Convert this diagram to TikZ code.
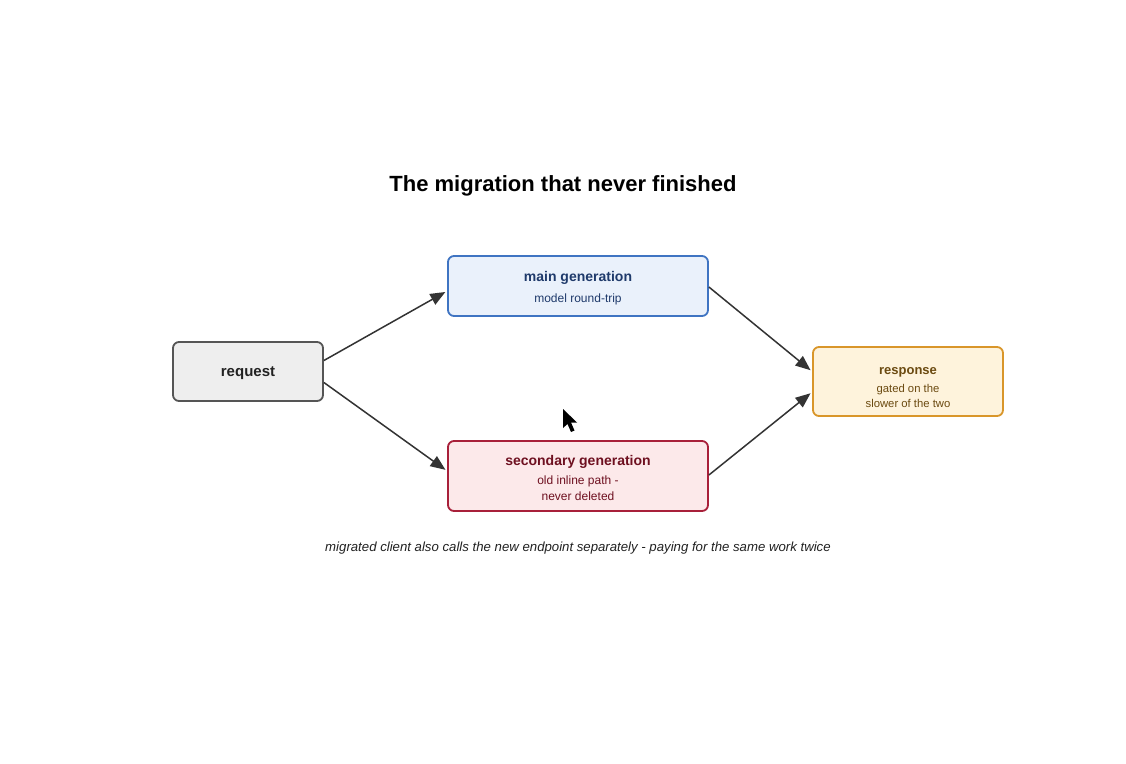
\documentclass[tikz,border=0pt]{standalone}
\usepackage{fontspec}
\setmainfont{Liberation Sans}
\usetikzlibrary{arrows.meta,calc}
\definecolor{reqfill}{HTML}{EEEEEE}
\definecolor{reqdraw}{HTML}{555555}
\definecolor{reqtext}{HTML}{222222}
\definecolor{mainfill}{HTML}{EAF1FB}
\definecolor{maindraw}{HTML}{3F74C2}
\definecolor{maintext}{HTML}{1F3A6B}
\definecolor{secfill}{HTML}{FCE9EA}
\definecolor{secdraw}{HTML}{A8203A}
\definecolor{sectext}{HTML}{6E1020}
\definecolor{resfill}{HTML}{FEF3DC}
\definecolor{resdraw}{HTML}{D9962A}
\definecolor{restext}{HTML}{6B4A10}
\definecolor{arrowc}{HTML}{333333}
\tikzset{
  box/.style={draw, line width=1.8pt, rounded corners=6pt, inner sep=0pt},
  head/.style={font=\bfseries\fontsize{14}{16}\selectfont, inner sep=0pt},
  sub/.style={font=\fontsize{12}{14}\selectfont, inner sep=0pt},
  conn/.style={draw=arrowc, line width=1.5pt, -{Triangle[length=15pt,width=12pt]}, shorten >=2pt},
}
\begin{document}
\begin{tikzpicture}[x=1pt,y=-1pt]
\useasboundingbox[fill=white] (0,0) rectangle (1126,763);
\node[font=\bfseries\fontsize{22}{26}\selectfont, text=black] (title) at (563,186) {The migration that never finished};
% boxes
\node[box, fill=reqfill, draw=reqdraw, minimum width=150pt, minimum height=59pt] (req) at (248,371.5) {};
\node[box, fill=mainfill, draw=maindraw, minimum width=260pt, minimum height=60pt] (main) at (578,286) {};
\node[box, fill=secfill, draw=secdraw, minimum width=260pt, minimum height=70pt] (sec) at (578,476) {};
\node[box, fill=resfill, draw=resdraw, minimum width=190pt, minimum height=69pt] (res) at (908,381.5) {};
% labels
\node[head, font=\bfseries\fontsize{15}{17}\selectfont, text=reqtext] (reqt) at ($(req.center)+(0,2)$) {request};
\node[head, text=maintext] (maint) at ($(main.center)+(0,-8)$) {main generation};
\node[sub, text=maintext] (mains) at ($(main.center)+(0,13)$) {model round-trip};
\node[head, text=sectext] (sect) at ($(sec.center)+(0,-14)$) {secondary generation};
\node[sub, text=sectext] (secs1) at ($(sec.center)+(0,5)$) {old inline path -};
\node[sub, text=sectext] (secs2) at ($(sec.center)+(0,20)$) {never deleted};
\node[head, font=\bfseries\fontsize{13}{15}\selectfont, text=restext] (rest) at ($(res.center)+(0,-9.5)$) {response};
\node[sub, font=\fontsize{11.3}{13}\selectfont, text=restext] (ress1) at ($(res.center)+(0,8.5)$) {gated on the};
\node[sub, font=\fontsize{11.3}{13}\selectfont, text=restext] (ress2) at ($(res.center)+(0,22)$) {slower of the two};
\node[font=\itshape\fontsize{13.2}{15}\selectfont, text=reqtext] (note) at (578,548)
  {migrated client also calls the new endpoint separately - paying for the same work twice};
% connectors
\draw[conn] ($(req.east)+(0,-11)$) -- ($(main.west)+(0,5)$);
\draw[conn] ($(req.east)+(0,11)$) -- ($(sec.west)+(0,-5)$);
\draw[conn] ($(main.east)+(0,1)$) -- ($(res.west)+(0,-10)$);
\draw[conn] ($(sec.east)+(0,-1)$) -- ($(res.west)+(0,10.5)$);
% mouse cursor
\fill[black] (563,409) -- (563,428) -- (567.5,424) -- (571,432) -- (574.5,430.5) -- (571,422.5) -- (577,422.5) -- cycle;
\end{tikzpicture}
\end{document}
